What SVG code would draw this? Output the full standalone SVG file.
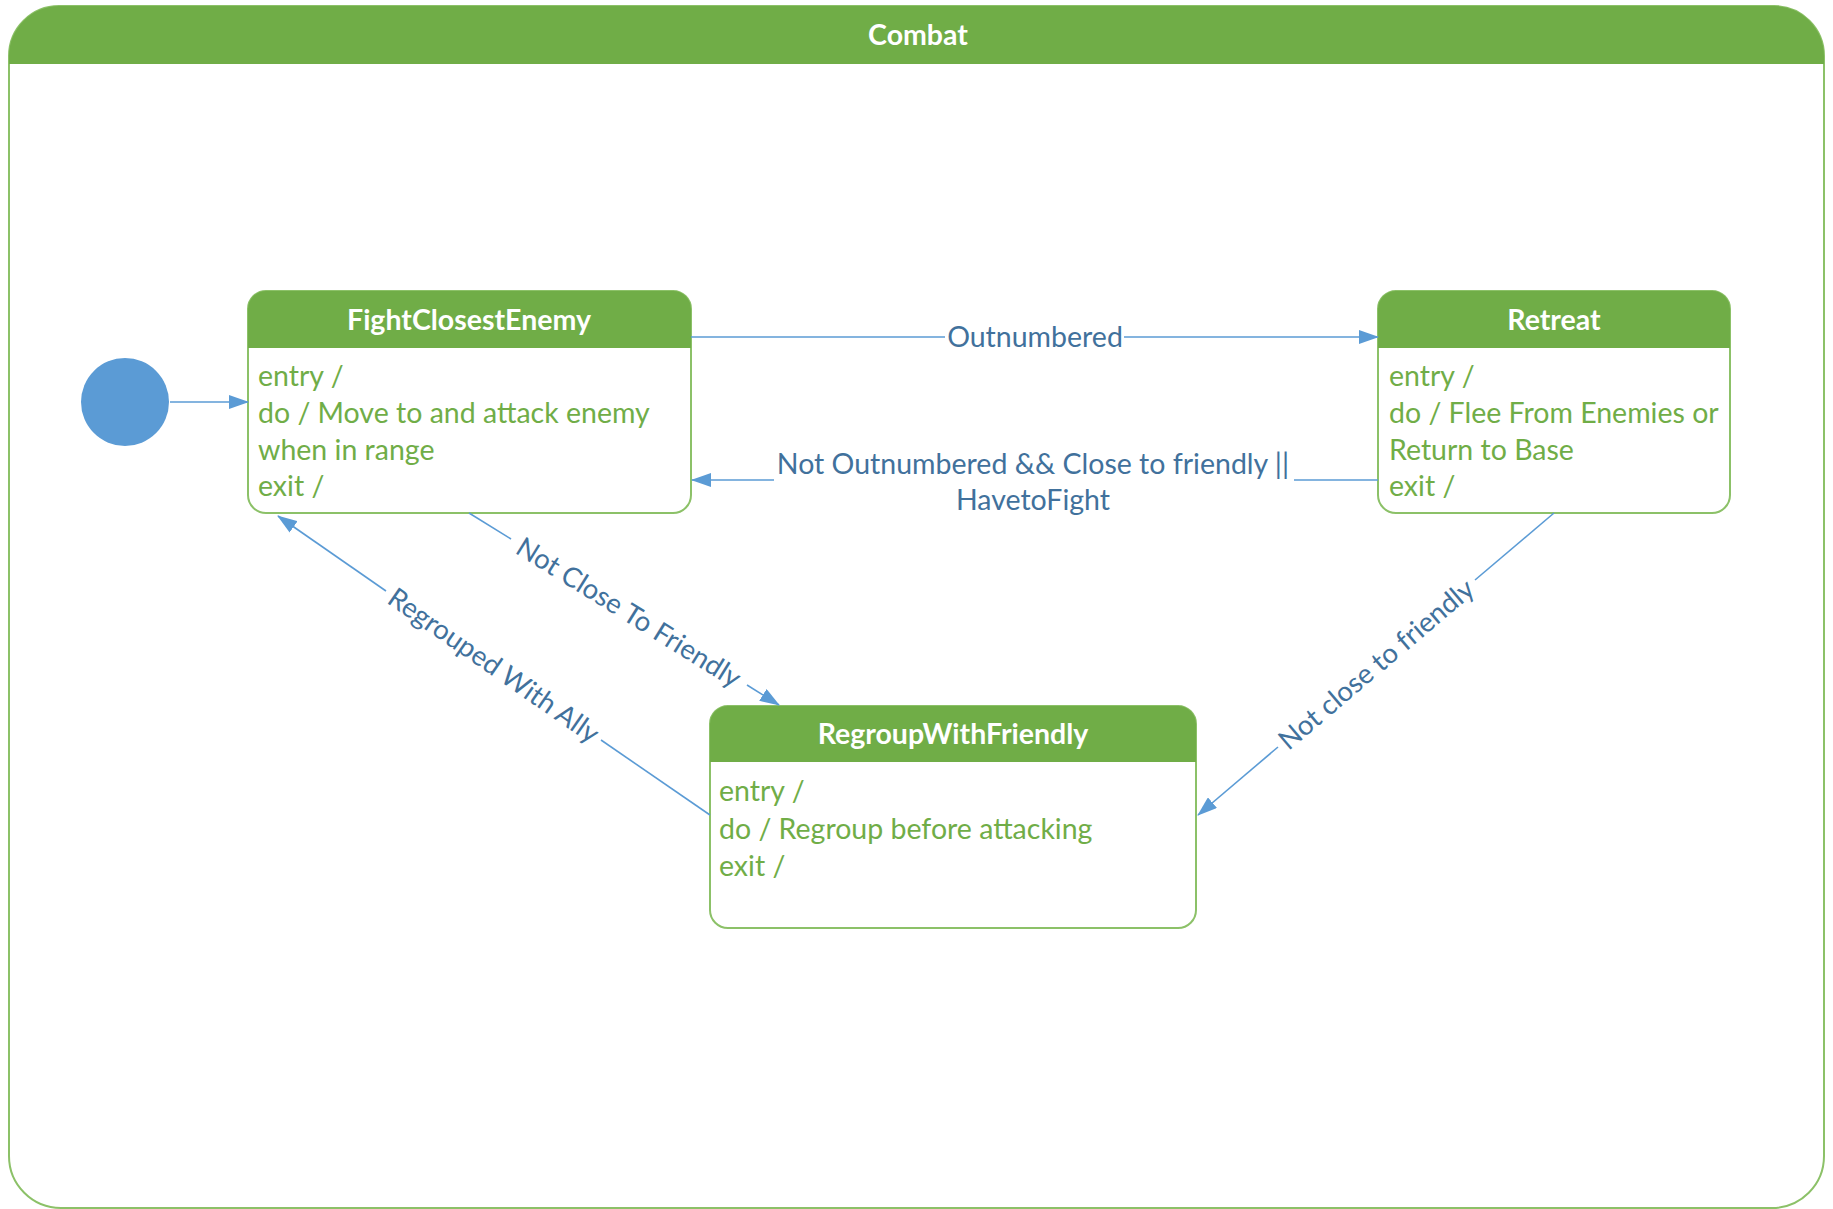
<svg xmlns="http://www.w3.org/2000/svg" width="1833" height="1209" viewBox="0 0 1833 1209">
<style>
.frame{fill:#fff;stroke:#8cc168;stroke-width:2}
.head{fill:#70AD47}
.nbody{fill:#fff;stroke:#8cc168;stroke-width:2}
.title{font-family:Lato,"Open Sans",sans-serif;font-weight:bold;font-size:28.5px;fill:#fff;text-anchor:middle}
.act{font-family:Lato,"Open Sans",sans-serif;font-size:28.5px;fill:#70AD47}
.edge{fill:none;stroke:#5B9BD5;stroke-width:1.6}
.lbl{font-family:Lato,"Open Sans",sans-serif;font-size:28.5px;fill:#41719C;text-anchor:middle}
.rot{font-size:27.5px}
</style>
<defs>
<marker id="arr" markerWidth="20" markerHeight="14" refX="19" refY="7" orient="auto" markerUnits="userSpaceOnUse">
<path d="M0,0 L20,7 L0,14 Z" fill="#5B9BD5"/>
</marker>
</defs>
<rect width="1833" height="1209" fill="#fff"/>
<g id="combat">
<path class="frame" d="M9,64 V56 A50,50 0 0 1 59,6 H1774 A50,50 0 0 1 1824,56 V1156 A52,52 0 0 1 1772,1208 H61 A52,52 0 0 1 9,1156 Z"/>
<path class="head" d="M9,64 V56 A50,50 0 0 1 59,6 H1774 A50,50 0 0 1 1824,56 V64 Z"/>
<text class="title" x="918" y="45" font-size="27.5">Combat</text>
</g>
<g id="initial">
<circle cx="125" cy="402" r="44" fill="#5B9BD5"/>
</g>
<g id="FightClosestEnemy">
<rect class="nbody" x="248" y="291" width="443" height="222" rx="18"/>
<path class="head" d="M248,348 V309 A18,18 0 0 1 266,291 H673 A18,18 0 0 1 691,309 V348 Z"/>
<text class="title" x="469" y="330">FightClosestEnemy</text>
<text class="act" x="258" y="386">entry /</text>
<text class="act" x="258" y="423">do / Move to and attack enemy</text>
<text class="act" x="258" y="460">when in range</text>
<text class="act" x="258" y="496">exit /</text>
</g>
<g id="Retreat">
<rect class="nbody" x="1378" y="291" width="352" height="222" rx="18"/>
<path class="head" d="M1378,348 V309 A18,18 0 0 1 1396,291 H1712 A18,18 0 0 1 1730,309 V348 Z"/>
<text class="title" x="1554" y="330">Retreat</text>
<text class="act" x="1389" y="386">entry /</text>
<text class="act" x="1389" y="423">do / Flee From Enemies or</text>
<text class="act" x="1389" y="460">Return to Base</text>
<text class="act" x="1389" y="496">exit /</text>
</g>
<g id="RegroupWithFriendly">
<rect class="nbody" x="710" y="706" width="486" height="222" rx="18"/>
<path class="head" d="M710,762 V724 A18,18 0 0 1 728,706 H1178 A18,18 0 0 1 1196,724 V762 Z"/>
<text class="title" x="953" y="744">RegroupWithFriendly</text>
<text class="act" x="719" y="801">entry /</text>
<text class="act" x="719" y="839">do / Regroup before attacking</text>
<text class="act" x="719" y="876">exit /</text>
</g>
<g id="connectors">
<path class="edge" d="M170,402 H248" marker-end="url(#arr)"/>
<path class="edge" d="M691,337 H945"/>
<path class="edge" d="M1124,337 H1378" marker-end="url(#arr)"/>
<path class="edge" d="M1378,480 H1294"/>
<path class="edge" d="M774,480 H692" marker-end="url(#arr)"/>
<path class="edge" d="M469,513 L511,539"/>
<path class="edge" d="M747,685 L779,705" marker-end="url(#arr)"/>
<path class="edge" d="M710,815 L601,740"/>
<path class="edge" d="M386,591 L278,516" marker-end="url(#arr)"/>
<path class="edge" d="M1554,513 L1475,580"/>
<path class="edge" d="M1278,747 L1198,815" marker-end="url(#arr)"/>
<text class="lbl" x="1035" y="347">Outnumbered</text>
<text class="lbl" x="1033" y="474">Not Outnumbered &amp;&amp; Close to friendly ||</text>
<text class="lbl" x="1033" y="510">HavetoFight</text>
<text class="lbl rot" transform="translate(629,612) rotate(31.8)" y="10">Not Close To Friendly</text>
<text class="lbl rot" transform="translate(494,665) rotate(34.7)" y="10">Regrouped With Ally</text>
<text class="lbl rot" transform="translate(1376,664) rotate(-40.3)" y="10">Not close to friendly</text>
</g>
</svg>
